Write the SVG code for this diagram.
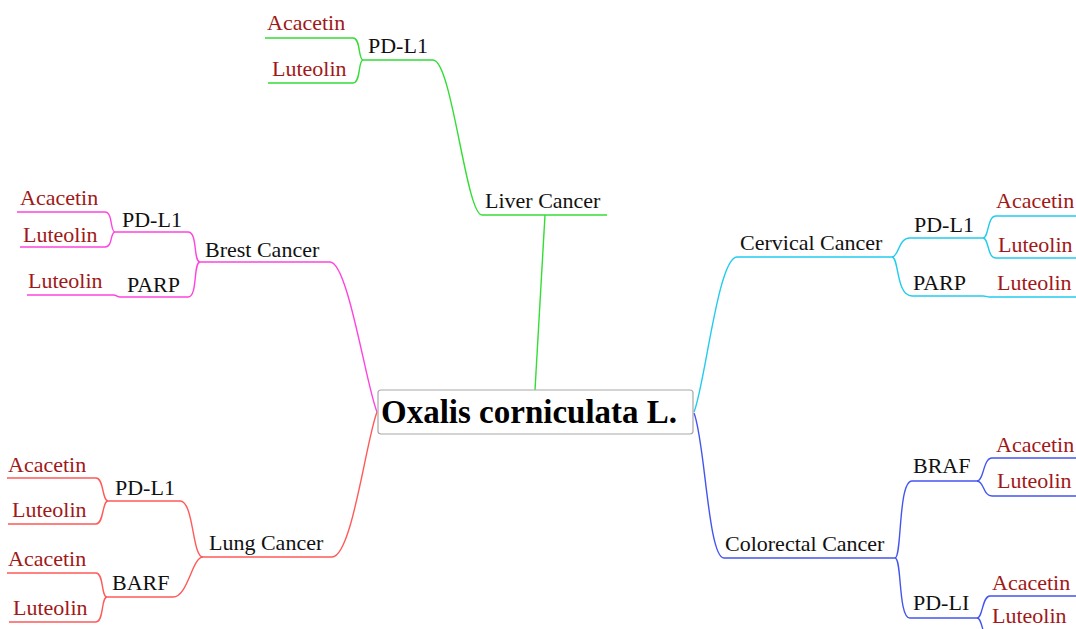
<svg xmlns="http://www.w3.org/2000/svg" width="1076" height="629" viewBox="0 0 1076 629">
<style>
text{font-family:"Liberation Serif","Times New Roman",serif;font-size:22px;fill:#111}
.leaf{fill:#a01818}
.root{font-size:33px;font-weight:bold;fill:#000}
path{fill:none;stroke-width:1.4}
.g{stroke:#33dd33}.m{stroke:#ff44dd}.r{stroke:#ff5a5a}.c{stroke:#22ccee}.b{stroke:#4455ee}
</style>
<rect width="1076" height="629" fill="#fff"/>
<g id="connectors">
<!-- Liver -->
<path class="g" d="M535,390 L545,215"/>
<path class="g" d="M482,215 H607"/>
<path class="g" d="M482,215 C466,215 452,60 433,60 H363"/>
<path class="g" d="M363,60 C358,60 361,38 353,38 H265"/>
<path class="g" d="M363,60 C358,60 361,83 353,83 H268"/>
<!-- Brest -->
<path class="m" d="M377,412 C366,385 348,262 330,262 H200"/>
<path class="m" d="M200,262 C193,262 198,232 188,232 H115"/>
<path class="m" d="M200,262 C193,262 198,297 188,297 H120 C117,297 117,295 113,295 H27"/>
<path class="m" d="M115,232 C110,232 113,212 105,212 H17"/>
<path class="m" d="M115,232 C110,232 113,247 105,247 H20"/>
<!-- Lung -->
<path class="r" d="M377,412 C366,440 352,557 332,557 H203"/>
<path class="r" d="M203,557 C192,557 194,501 180,501 H108"/>
<path class="r" d="M203,557 C192,557 188,597 173,597 H107"/>
<path class="r" d="M108,501 C102,501 104,478 96,478 H7"/>
<path class="r" d="M108,501 C102,501 104,524 96,524 H8"/>
<path class="r" d="M107,597 C101,597 104,573 96,573 H7"/>
<path class="r" d="M107,597 C101,597 104,622 96,622 H9"/>
<!-- Cervical -->
<path class="c" d="M694,412 C705,385 718,257 737,257 H892"/>
<path class="c" d="M892,257 C899,257 898,238 910,238 H983"/>
<path class="c" d="M892,257 C899,257 896,296 912,296 H983 C986,296 986,297 990,297 H1076"/>
<path class="c" d="M983,238 C989,238 987,216 996,216 H1076"/>
<path class="c" d="M983,238 C989,238 987,258 996,258 H1076"/>
<!-- Colorectal -->
<path class="b" d="M694,413 C705,440 708,558 724,558 H895"/>
<path class="b" d="M895,558 C902,558 898,481 912,481 H977"/>
<path class="b" d="M895,558 C902,558 898,618 910,618 H977"/>
<path class="b" d="M977,481 C984,481 983,458 992,458 H1076"/>
<path class="b" d="M977,481 C984,481 983,496 992,496 H1076"/>
<path class="b" d="M977,618 C983,618 982,596 990,596 H1076"/>
<path class="b" d="M977,618 C983,618 982,640 990,640 H1076"/>
</g>
<g id="root">
<rect x="378" y="390" width="315" height="44" rx="3" fill="#fff" stroke="#a8a8a8" stroke-width="1.2"/>
<text class="root" x="381" y="423">Oxalis corniculata L.</text>
</g>
<g id="liver-cancer"><text x="485" y="208">Liver Cancer</text></g>
<g id="liver-pdl1"><text x="368" y="53">PD-L1</text></g>
<g id="liver-acacetin"><text class="leaf" x="267" y="30">Acacetin</text></g>
<g id="liver-luteolin"><text class="leaf" x="272" y="76">Luteolin</text></g>
<g id="brest-cancer"><text x="205" y="257">Brest Cancer</text></g>
<g id="brest-pdl1"><text x="122" y="227">PD-L1</text></g>
<g id="brest-acacetin"><text class="leaf" x="20" y="205">Acacetin</text></g>
<g id="brest-luteolin1"><text class="leaf" x="23" y="242">Luteolin</text></g>
<g id="brest-parp"><text x="127" y="292">PARP</text></g>
<g id="brest-luteolin2"><text class="leaf" x="28" y="288">Luteolin</text></g>
<g id="lung-cancer"><text x="209" y="550">Lung Cancer</text></g>
<g id="lung-pdl1"><text x="115" y="495">PD-L1</text></g>
<g id="lung-acacetin1"><text class="leaf" x="8" y="472">Acacetin</text></g>
<g id="lung-luteolin1"><text class="leaf" x="12" y="517">Luteolin</text></g>
<g id="lung-barf"><text x="112" y="590">BARF</text></g>
<g id="lung-acacetin2"><text class="leaf" x="8" y="566">Acacetin</text></g>
<g id="lung-luteolin2"><text class="leaf" x="13" y="615">Luteolin</text></g>
<g id="cervical-cancer"><text x="740" y="250">Cervical Cancer</text></g>
<g id="cervical-pdl1"><text x="914" y="232">PD-L1</text></g>
<g id="cervical-acacetin"><text class="leaf" x="996" y="208">Acacetin</text></g>
<g id="cervical-luteolin1"><text class="leaf" x="998" y="252">Luteolin</text></g>
<g id="cervical-parp"><text x="913" y="290">PARP</text></g>
<g id="cervical-luteolin2"><text class="leaf" x="997" y="290">Luteolin</text></g>
<g id="colorectal-cancer"><text x="725" y="551">Colorectal Cancer</text></g>
<g id="colorectal-braf"><text x="913" y="473">BRAF</text></g>
<g id="colorectal-acacetin1"><text class="leaf" x="996" y="452">Acacetin</text></g>
<g id="colorectal-luteolin1"><text class="leaf" x="997" y="488">Luteolin</text></g>
<g id="colorectal-pdli"><text x="913" y="610">PD-LI</text></g>
<g id="colorectal-acacetin2"><text class="leaf" x="992" y="590">Acacetin</text></g>
<g id="colorectal-luteolin2"><text class="leaf" x="992" y="623">Luteolin</text></g>
</svg>
